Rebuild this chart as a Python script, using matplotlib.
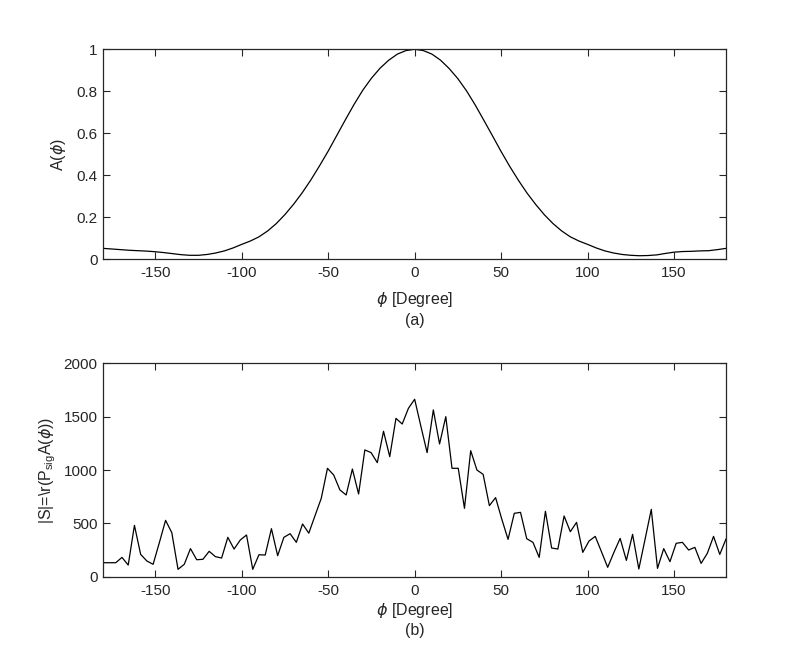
import numpy as np
import matplotlib
matplotlib.use("Agg")
import matplotlib.pyplot as plt

plt.rcParams['font.family'] = ['Liberation Sans', 'DejaVu Sans']
plt.rcParams['mathtext.fontset'] = 'custom'
plt.rcParams['mathtext.rm'] = 'Liberation Sans'
plt.rcParams['mathtext.it'] = 'DejaVu Sans:italic'
plt.rcParams['mathtext.default'] = 'it'
plt.rcParams['axes.unicode_minus'] = False

# ---- (a) beam pattern A(phi), read every 5 degrees ----
phi_a = [-180, -175, -170, -165, -160, -155, -150, -145, -140, -135, -130, -125,
         -120, -115, -110, -105, -100, -95, -90, -85, -80, -75, -70, -65, -60,
         -55, -50, -45, -40, -35, -30, -25, -20, -15, -10, -5, 0,
         5, 10, 15, 20, 25, 30, 35, 40, 45, 50, 55, 60, 65, 70, 75, 80, 85, 90,
         95, 100, 105, 110, 115, 120, 125, 130, 135, 140, 145, 150, 155, 160,
         165, 170, 175, 180]
A_vals = [0.052, 0.049, 0.046, 0.043, 0.041, 0.039, 0.036, 0.032, 0.027, 0.022,
          0.019, 0.019, 0.023, 0.030, 0.040, 0.054, 0.071, 0.087, 0.107, 0.135,
          0.170, 0.213, 0.262, 0.317, 0.378, 0.445, 0.515, 0.590, 0.665, 0.738,
          0.805, 0.862, 0.910, 0.948, 0.977, 0.994, 1.0,
          0.994, 0.977, 0.948, 0.908, 0.860, 0.802, 0.735, 0.662, 0.588, 0.513,
          0.442, 0.376, 0.315, 0.261, 0.212, 0.170, 0.135, 0.107, 0.087, 0.071,
          0.054, 0.040, 0.030, 0.023, 0.019, 0.017, 0.018, 0.021, 0.028, 0.034,
          0.037, 0.038, 0.040, 0.041, 0.046, 0.052]

# ---- (b) |S| samples, 3.6 degree step ----
phi_b = np.linspace(-180, 180, 101)
S_vals = [131, 131, 131, 181, 109, 481, 209, 147, 116, 319,
          528, 413, 69, 116, 263, 159, 163, 238, 188, 175,
          369, 259, 344, 391, 69, 206, 203, 450, 197, 369,
          403, 322, 494, 408, 572, 734, 1016, 953, 813, 766,
          1009, 775, 1188, 1163, 1069, 1363, 1125, 1484, 1431, 1578,
          1663, 1410, 1163, 1563, 1244, 1500, 1016, 1016, 641, 1181,
          1000, 959, 666, 741, 538, 350, 594, 603, 356, 322,
          181, 613, 269, 259, 569, 422, 509, 228, 334, 378,
          234, 88, 228, 359, 153, 397, 72, 350, 631, 78,
          263, 141, 313, 322, 250, 275, 125, 219, 378, 209,
          353]

x_ticks = [-150, -100, -50, 0, 50, 100, 150]
ya_ticks = [0, 0.2, 0.4, 0.6, 0.8, 1]
ya_labels = ['0', '0.2', '0.4', '0.6', '0.8', '1']
yb_ticks = [0, 500, 1000, 1500, 2000]

dark = '#262626'
W, H = 802, 664
fig = plt.figure(figsize=(W / 100, H / 100), dpi=100)

L, R = 103.3 / W, 726 / W
ax1 = fig.add_axes([L, 1 - 259.3 / H, R - L, (259.3 - 49.3) / H])
ax2 = fig.add_axes([L, 1 - 576.7 / H, R - L, (576.7 - 363.3) / H])

ax1.plot(phi_a, A_vals, color='black', lw=0.9)
ax2.plot(phi_b, S_vals, color='black', lw=0.9)

ax1.set_ylim(0, 1)
ax1.set_yticks(ya_ticks)
ax1.set_yticklabels(ya_labels)
ax2.set_ylim(0, 2000)
ax2.set_yticks(yb_ticks)

for ax in (ax1, ax2):
    ax.set_xlim(-180, 180)
    ax.set_xticks(x_ticks)
    ax.tick_params(direction='in', length=5, width=0.8, top=True, right=True,
                   labelsize=11, colors=dark, pad=5)
    ax.tick_params(axis='y', pad=4)
    for s in ax.spines.values():
        s.set_color(dark)
        s.set_linewidth(0.9)

ax1.set_ylabel(r'A($\phi$)', fontsize=11.5, color=dark, labelpad=6)
ax2.set_ylabel(r'|S|=\r(P$_{\mathrm{sig}}$A($\phi$))', fontsize=11.5, color=dark, labelpad=4)

def fig_text(x_px, y_px, s):
    fig.text(x_px / W, 1 - y_px / H, s, ha='center', va='center',
             fontsize=11.5, color=dark)

cx = (103.3 + 726) / 2
fig_text(cx, 299.5, r'$\phi$ [Degree]')
fig_text(cx, 321, '(a)')
fig_text(cx, 610, r'$\phi$ [Degree]')
fig_text(cx, 631, '(b)')

fig.savefig('out.png', dpi=100, facecolor='white')
